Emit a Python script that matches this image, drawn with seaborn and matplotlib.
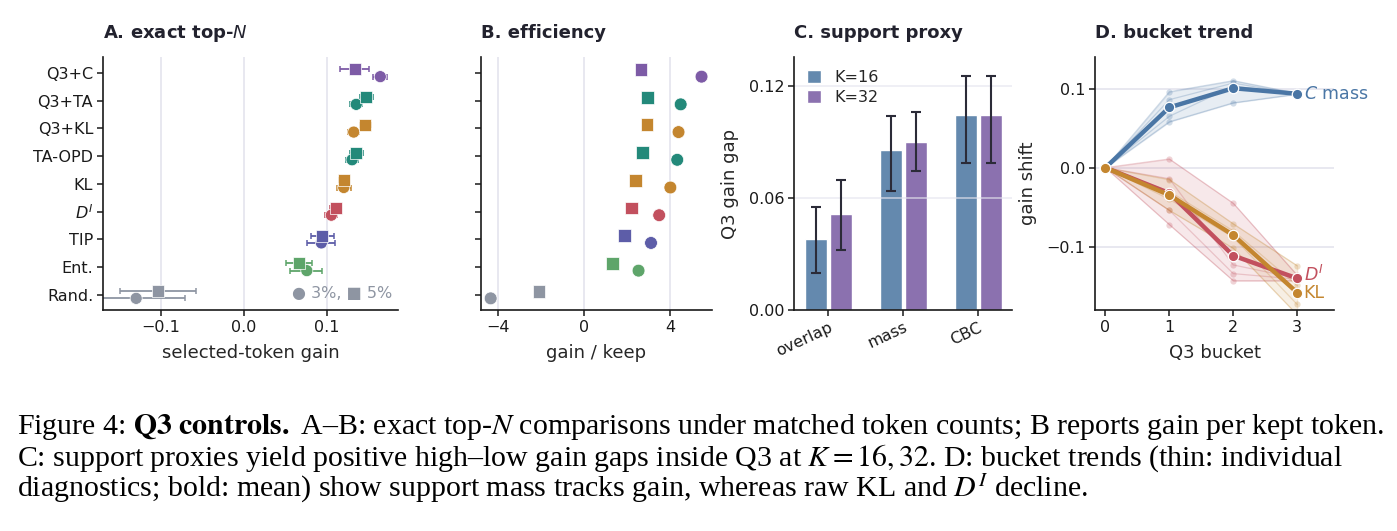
import numpy as np
import pandas as pd
import matplotlib.pyplot as plt
import seaborn as sns

# ---- data ----
methods = ["Q3+C", "Q3+TA", "Q3+KL", "TA-OPD", "KL", "$D^I$", "TIP", "Ent.", "Rand."]
method_colors = ["#7d5ba6", "#23897a", "#c4862f", "#23897a", "#c4862f",
                 "#c2505e", "#5d5da8", "#5ea56a", "#8e95a2"]

# A: selected-token gain, 3% (circle) and 5% (square), with interval bounds
gain_3 = [0.164, 0.135, 0.132, 0.130, 0.120, 0.105, 0.093, 0.0755, -0.130]
gain_3_lo = [0.155, 0.128, 0.125, 0.123, 0.112, 0.097, 0.0755, 0.0555, -0.189]
gain_3_hi = [0.172, 0.1425, 0.138, 0.137, 0.129, 0.112, 0.110, 0.094, -0.071]
gain_5 = [0.133, 0.147, 0.146, 0.135, 0.120, 0.111, 0.094, 0.066, -0.104]
gain_5_lo = [0.115, 0.140, 0.139, 0.128, 0.114, 0.104, 0.080, 0.050, -0.149]
gain_5_hi = [0.150, 0.155, 0.153, 0.143, 0.126, 0.117, 0.108, 0.0815, -0.058]

# B: gain per kept token
eff_3 = [5.47, 4.50, 4.40, 4.34, 4.02, 3.50, 3.12, 2.54, -4.34]
eff_5 = [2.65, 2.96, 2.93, 2.71, 2.40, 2.23, 1.89, 1.33, -2.09]

# C: Q3 gain gap by support proxy
proxies = ["overlap", "mass", "CBC"]
gap_k16 = [0.038, 0.0857, 0.1045]
gap_k16_lo = [0.020, 0.0636, 0.0784]
gap_k16_hi = [0.055, 0.104, 0.125]
gap_k32 = [0.0514, 0.090, 0.1045]
gap_k32_lo = [0.032, 0.0743, 0.0784]
gap_k32_hi = [0.0696, 0.106, 0.125]

# D: bucket trend, individual diagnostics per family
buckets = [0, 1, 2, 3]
cmass_runs = [[0.0, 0.096, 0.110, 0.094],
              [0.0, 0.086, 0.107, 0.093],
              [0.0, 0.065, 0.103, 0.094],
              [0.0, 0.058, 0.082, 0.093]]
di_runs = [[0.0, 0.011, -0.045, -0.136],
           [0.0, -0.014, -0.123, -0.140],
           [0.0, -0.054, -0.134, -0.141],
           [0.0, -0.072, -0.143, -0.143]]
kl_runs = [[0.0, -0.015, -0.071, -0.124],
           [0.0, -0.030, -0.080, -0.149],
           [0.0, -0.040, -0.088, -0.173],
           [0.0, -0.054, -0.102, -0.186]]
family_names = ["C mass", "D^I", "KL"]
family_labels = ["$C$ mass", "$D^I$", "KL"]
family_colors = ["#4a76a5", "#c2505e", "#c4862f"]

# ---- style ----
sns.set_theme(style="ticks")
plt.rcParams['font.family'] = ['DejaVu Sans']
plt.rcParams.update({
    "axes.edgecolor": "#1a1a1a",
    "axes.linewidth": 1.2,
    "xtick.color": "#1a1a1a",
    "ytick.color": "#1a1a1a",
    "xtick.labelsize": 11.5,
    "ytick.labelsize": 11.5,
    "axes.labelsize": 13,
    "axes.labelpad": 7,
    "xtick.major.size": 4,
    "ytick.major.size": 4,
    "xtick.major.width": 1.1,
    "ytick.major.width": 1.1,
})
grid_col = "#e4e4ee"
title_kw = dict(loc="left", fontsize=13, fontweight="bold", color="#22222e", pad=14)

fig = plt.figure(figsize=(13.97, 5.31), dpi=100)
axA = fig.add_axes([0.0737, 0.4162, 0.2113, 0.4765])
axB = fig.add_axes([0.3443, 0.4162, 0.1651, 0.4765])
axC = fig.add_axes([0.5686, 0.4162, 0.1558, 0.4765])
axD = fig.add_axes([0.7840, 0.4162, 0.1711, 0.4765])

rows = np.arange(len(methods))
off = 0.13
palette = dict(zip(methods, method_colors))

long = pd.DataFrame({
    "method": methods * 2,
    "level": ["3%"] * len(methods) + ["5%"] * len(methods),
    "row": np.concatenate([rows + off, rows - off]),
    "gain": gain_3 + gain_5,
    "lo": gain_3_lo + gain_5_lo,
    "hi": gain_3_hi + gain_5_hi,
    "eff": eff_3 + eff_5,
})

# ---- A ----
for _, r in long.iterrows():
    axA.errorbar(r["gain"], r["row"], xerr=[[r["gain"] - r["lo"]], [r["hi"] - r["gain"]]],
                 fmt="none", ecolor=palette[r["method"]], elinewidth=1.3, capsize=2.5,
                 capthick=1.1, zorder=2)
sns.scatterplot(data=long, x="gain", y="row", hue="method", style="level",
                palette=palette, markers={"3%": "o", "5%": "s"}, s=75,
                edgecolor="white", linewidth=0.5, legend=False, ax=axA, zorder=3)
axA.set_xlim(-0.17, 0.1855)
axA.set_ylim(8.55, -0.58)
axA.set_yticks(rows, methods)
axA.set_xticks([-0.1, 0.0, 0.1], ["\u22120.1", "0.0", "0.1"])
for x in [-0.1, 0.0, 0.1]:
    axA.axvline(x, color=grid_col, lw=1.2, zorder=0)
axA.set_xlabel("selected-token gain")
axA.set_ylabel("")
axA.set_title("A. exact top-$N$", **title_kw)
axA.text(0.98, 0.067, "\u25cf 3%, \u25a0 5%", transform=axA.transAxes, ha="right",
         va="center", fontsize=11.5, color="#8e95a2")

# ---- B ----
sns.scatterplot(data=long, x="eff", y="row", hue="method", style="level",
                palette=palette, markers={"3%": "o", "5%": "s"}, s=85,
                edgecolor="white", linewidth=0.5, legend=False, ax=axB, zorder=3)
axB.set_xlim(-4.79, 5.94)
axB.set_ylim(8.55, -0.58)
axB.set_yticks(rows, [""] * len(rows))
axB.set_xticks([-4, 0, 4], ["\u22124", "0", "4"])
for x in [-4, 0, 4]:
    axB.axvline(x, color=grid_col, lw=1.2, zorder=0)
axB.set_xlabel("gain / keep")
axB.set_ylabel("")
axB.set_title("B. efficiency", **title_kw)

# ---- C ----
bars = pd.DataFrame({
    "proxy": proxies * 2,
    "K": ["K=16"] * 3 + ["K=32"] * 3,
    "gap": gap_k16 + gap_k32,
})
sns.barplot(data=bars, x="proxy", y="gap", hue="K",
            palette={"K=16": "#6489ae", "K=32": "#8b71af"}, saturation=1,
            width=0.667, gap=0.13, errorbar=None, ax=axC, zorder=2)
for cont, vals, lo, hi in zip(axC.containers, [gap_k16, gap_k32],
                              [gap_k16_lo, gap_k32_lo], [gap_k16_hi, gap_k32_hi]):
    xs = [p.get_x() + p.get_width() / 2 for p in cont.patches]
    axC.errorbar(xs, vals, yerr=[np.subtract(vals, lo), np.subtract(hi, vals)],
                 fmt="none", ecolor="#2b2b38", elinewidth=1.5, capsize=3.5,
                 capthick=1.5, zorder=3)
for y in [0.06, 0.12]:
    axC.axhline(y, color=grid_col, lw=1.2, alpha=0.7, zorder=2.5)
axC.set_xlim(-0.453, 2.45)
axC.set_ylim(0, 0.1354)
axC.set_yticks([0.0, 0.06, 0.12], ["0.00", "0.06", "0.12"])
axC.set_xticks(range(3), proxies, rotation=25, ha="right", rotation_mode="anchor")
axC.set_xlabel("")
axC.set_ylabel("Q3 gain gap")
axC.set_title("C. support proxy", **title_kw)
axC.legend(title=None, frameon=False, loc="upper left", fontsize=11.5,
           handlelength=0.9, handleheight=0.9, borderaxespad=0.4, labelspacing=0.3)

# ---- D ----
trend = []
for name, runs in zip(family_names, [cmass_runs, di_runs, kl_runs]):
    for i, run in enumerate(runs):
        for b, v in zip(buckets, run):
            trend.append({"family": name, "run": i, "bucket": b, "shift": v})
trend = pd.DataFrame(trend)
fam_pal = dict(zip(family_names, family_colors))

for y in [-0.1, 0.0, 0.1]:
    axD.axhline(y, color=grid_col, lw=1.2, zorder=0)
for name in family_names:
    sub = trend[trend["family"] == name]
    col = fam_pal[name]
    sns.lineplot(data=sub, x="bucket", y="shift", units="run", estimator=None,
                 color=col, lw=0.9, alpha=0.25, marker="o", markersize=4.5,
                 markeredgewidth=0, ax=axD, zorder=2)
    sns.lineplot(data=sub, x="bucket", y="shift", errorbar=("pi", 100),
                 color=col, lw=3.2, marker="o", markersize=7.5,
                 markeredgecolor="white", markeredgewidth=0.9,
                 err_kws={"alpha": 0.13, "edgecolor": col, "linewidth": 0.8},
                 ax=axD, zorder=4)
means = trend.groupby(["family", "bucket"])["shift"].mean()
for name, lab in zip(family_names, family_labels):
    yv = means[(name, buckets[-1])]
    if name == "D^I":
        yv += 0.004
    axD.text(buckets[-1] + 0.1, yv, lab, color=fam_pal[name], fontsize=12.5,
             va="center", ha="left")
axD.set_xlim(-0.16, 3.58)
axD.set_ylim(-0.18, 0.14)
axD.set_xticks(buckets)
axD.set_yticks([-0.1, 0.0, 0.1], ["\u22120.1", "0.0", "0.1"])
axD.set_xlabel("Q3 bucket")
axD.set_ylabel("gain shift")
axD.set_title("D. bucket trend", **title_kw)

for ax in [axA, axB, axC, axD]:
    sns.despine(ax=ax)
    ax.tick_params(axis="both", which="major", pad=3)

# ---- caption ----
cap_kw = dict(fontsize=21.5, family="Liberation Serif", math_fontfamily="stix",
              color="black", ha="left", va="center")
fig.text(0.0122, 1 - 427 / 531,
         r"Figure 4: $\mathbf{Q3\ controls.}$ A–B: exact top-$N$ comparisons under matched "
         r"token counts; B reports gain per kept token.", **cap_kw)
fig.text(0.0122, 1 - 458 / 531,
         r"C: support proxies yield positive high–low gain gaps inside Q3 at $K = 16, 32$. "
         r"D: bucket trends (thin: individual", **cap_kw)
fig.text(0.0122, 1 - 488 / 531,
         r"diagnostics; bold: mean) show support mass tracks gain, whereas raw KL and "
         r"$D^I$ decline.", **cap_kw)

fig.savefig("out.png", dpi=100)
